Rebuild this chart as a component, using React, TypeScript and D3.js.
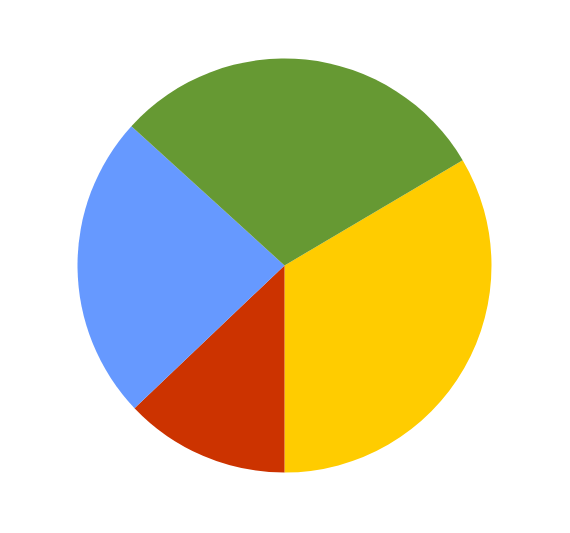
import React from "react";
import * as d3 from "d3";

const categories = ["Yellow", "Red", "Blue", "Green"];
const values = [33.5, 12.9, 23.85, 29.75];
const colors = ["#ffcc00", "#cc3300", "#6699ff", "#669933"];

export default function App() {
  const width = 570;
  const height = 533;
  const cx = 284.5;
  const cy = 265.5;
  const r = 207;
  const pie = d3
    .pie<number>()
    .sort(null)
    .value((d) => d)
    .startAngle((59.4 * Math.PI) / 180)
    .endAngle((59.4 * Math.PI) / 180 + 2 * Math.PI);
  const arcs = pie(values);
  const arc = d3.arc<d3.PieArcDatum<number>>().innerRadius(0).outerRadius(r);
  return (
    <svg
      width={width}
      height={height}
      style={{ position: "absolute", left: 0, top: 0, background: "#fff" }}
    >
      <g transform={`translate(${cx},${cy})`}>
        {arcs.map((a, i) => (
          <path key={categories[i]} d={arc(a) || ""} fill={colors[i]} />
        ))}
      </g>
    </svg>
  );
}
